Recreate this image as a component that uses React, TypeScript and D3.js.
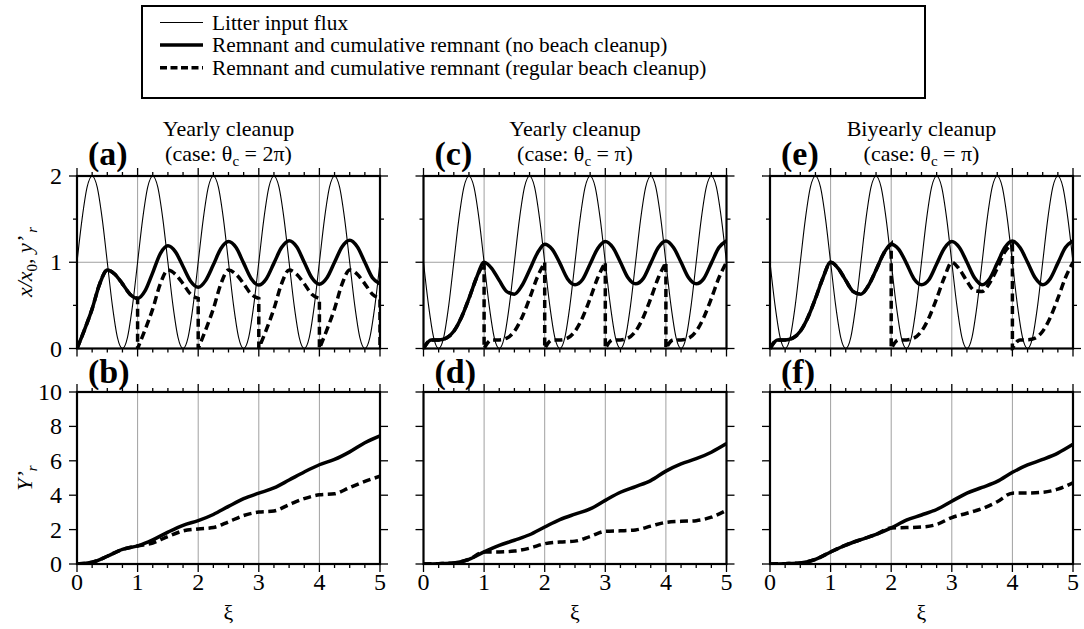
import React from "react";
import * as d3 from "d3";

// sampling grids (xi = t / one year)
const xiTop = d3.range(0, 41).map((i) => i * 0.125);
const xiFlux = d3.range(0, 61).map((i) => i / 12);
const xiCum = d3.range(0, 21).map((i) => i * 0.25);

// litter input flux x/x0
const fluxA = [
  1, 1.5, 1.87, 2, 1.87, 1.5, 1, 0.5, 0.13, 0, 0.13, 0.5,
  1, 1.5, 1.87, 2, 1.87, 1.5, 1, 0.5, 0.13, 0, 0.13, 0.5,
  1, 1.5, 1.87, 2, 1.87, 1.5, 1, 0.5, 0.13, 0, 0.13, 0.5,
  1, 1.5, 1.87, 2, 1.87, 1.5, 1, 0.5, 0.13, 0, 0.13, 0.5,
  1, 1.5, 1.87, 2, 1.87, 1.5, 1, 0.5, 0.13, 0, 0.13, 0.5,
  1,
];
const fluxCE = [
  1, 0.5, 0.13, 0, 0.13, 0.5, 1, 1.5, 1.87, 2, 1.87, 1.5,
  1, 0.5, 0.13, 0, 0.13, 0.5, 1, 1.5, 1.87, 2, 1.87, 1.5,
  1, 0.5, 0.13, 0, 0.13, 0.5, 1, 1.5, 1.87, 2, 1.87, 1.5,
  1, 0.5, 0.13, 0, 0.13, 0.5, 1, 1.5, 1.87, 2, 1.87, 1.5,
  1, 0.5, 0.13, 0, 0.13, 0.5, 1, 1.5, 1.87, 2, 1.87, 1.5,
  1,
];

// remnant y'r, no cleanup / with cleanup (value at a cleanup xi is the one before the drop)
const remNoA = [
  0, 0.22, 0.46, 0.75, 0.91, 0.86, 0.75, 0.63, 0.58,
  0.67, 0.88, 1.1, 1.19, 1.12, 0.95, 0.78, 0.71,
  0.79, 0.97, 1.16, 1.24, 1.17, 0.99, 0.81, 0.735,
  0.81, 0.99, 1.17, 1.25, 1.18, 1.0, 0.82, 0.745,
  0.82, 1.0, 1.18, 1.255, 1.18, 1.0, 0.82, 0.75,
];
const remCleanA = [
  0, 0.22, 0.46, 0.75, 0.91, 0.86, 0.75, 0.63, 0.58,
  0.22, 0.46, 0.75, 0.91, 0.86, 0.75, 0.63, 0.58,
  0.22, 0.46, 0.75, 0.91, 0.86, 0.75, 0.63, 0.58,
  0.22, 0.46, 0.75, 0.91, 0.86, 0.75, 0.63, 0.58,
  0.22, 0.46, 0.75, 0.91, 0.86, 0.75, 0.63, 0.58,
];
const cleanupA = [1, 2, 3, 4, 5];

const remNoC = [
  0, 0.1, 0.1, 0.12, 0.2, 0.36, 0.58, 0.82, 1.0,
  0.93, 0.79, 0.66, 0.63, 0.73, 0.91, 1.1, 1.21,
  1.15, 0.99, 0.81, 0.74, 0.8, 0.98, 1.16, 1.24,
  1.17, 1.0, 0.82, 0.75, 0.81, 0.99, 1.17, 1.245,
  1.17, 1.0, 0.82, 0.75, 0.81, 0.99, 1.17, 1.25,
];
const remCleanC = [
  0, 0.1, 0.1, 0.12, 0.2, 0.36, 0.58, 0.82, 1.0,
  0.1, 0.1, 0.12, 0.2, 0.36, 0.58, 0.82, 1.0,
  0.1, 0.1, 0.12, 0.2, 0.36, 0.58, 0.82, 1.0,
  0.1, 0.1, 0.12, 0.2, 0.36, 0.58, 0.82, 1.0,
  0.1, 0.1, 0.12, 0.2, 0.36, 0.58, 0.82, 1.0,
];
const cleanupC = [1, 2, 3, 4];

const remNoE = [
  0, 0.1, 0.1, 0.12, 0.2, 0.36, 0.58, 0.82, 1.0,
  0.93, 0.79, 0.66, 0.63, 0.73, 0.91, 1.1, 1.21,
  1.15, 0.99, 0.81, 0.74, 0.8, 0.98, 1.16, 1.24,
  1.17, 1.0, 0.82, 0.74, 0.81, 0.99, 1.17, 1.245,
  1.17, 1.0, 0.82, 0.74, 0.81, 0.99, 1.17, 1.25,
];
const remCleanE = [
  0, 0.1, 0.1, 0.12, 0.2, 0.36, 0.58, 0.82, 1.0,
  0.93, 0.79, 0.66, 0.63, 0.73, 0.91, 1.1, 1.21,
  0.1, 0.1, 0.12, 0.2, 0.36, 0.58, 0.82, 1.0,
  0.92, 0.78, 0.67, 0.66, 0.76, 0.93, 1.12, 1.21,
  0.1, 0.1, 0.12, 0.2, 0.36, 0.58, 0.82, 1.0,
];
const cleanupE = [2, 4];

// cumulative remnant Y'r
const cumNoB = [0, 0.1, 0.45, 0.85, 1.05, 1.4, 1.85, 2.25, 2.52, 2.88, 3.35, 3.8, 4.12, 4.42, 4.88, 5.35, 5.77, 6.08, 6.52, 7.05, 7.45];
const cumCleanB = [0, 0.1, 0.45, 0.85, 1.05, 1.22, 1.6, 1.92, 2.04, 2.12, 2.45, 2.82, 3.02, 3.08, 3.45, 3.8, 4.02, 4.08, 4.45, 4.8, 5.1];
const cumNoD = [0, 0.02, 0.06, 0.27, 0.7, 1.08, 1.38, 1.7, 2.15, 2.58, 2.9, 3.2, 3.7, 4.17, 4.5, 4.85, 5.4, 5.82, 6.12, 6.5, 7.0];
const cumCleanD = [0, 0.02, 0.06, 0.27, 0.7, 0.7, 0.75, 0.92, 1.18, 1.28, 1.33, 1.6, 1.9, 1.93, 1.98, 2.2, 2.42, 2.48, 2.52, 2.72, 3.12];
const cumNoF = [0, 0.02, 0.06, 0.27, 0.7, 1.1, 1.42, 1.72, 2.1, 2.55, 2.85, 3.17, 3.65, 4.12, 4.45, 4.8, 5.33, 5.76, 6.08, 6.45, 6.96];
const cumCleanF = [0, 0.02, 0.06, 0.27, 0.7, 1.1, 1.42, 1.72, 2.1, 2.12, 2.15, 2.3, 2.7, 2.95, 3.22, 3.62, 4.12, 4.13, 4.17, 4.35, 4.72];

const titles = ["Yearly cleanup", "Yearly cleanup", "Biyearly cleanup"];
const thetas = ["2π", "π", "π"];
const topLetters = ["(a)", "(c)", "(e)"];
const botLetters = ["(b)", "(d)", "(f)"];
const legendLabels = [
  "Litter input flux",
  "Remnant and cumulative remnant (no beach cleanup)",
  "Remnant and cumulative remnant (regular beach cleanup)",
];

const columns = [
  { flux: fluxA, remNo: remNoA, remClean: remCleanA, cleanup: cleanupA, cumNo: cumNoB, cumClean: cumCleanB },
  { flux: fluxCE, remNo: remNoC, remClean: remCleanC, cleanup: cleanupC, cumNo: cumNoD, cumClean: cumCleanD },
  { flux: fluxCE, remNo: remNoE, remClean: remCleanE, cleanup: cleanupE, cumNo: cumNoF, cumClean: cumCleanF },
];

const FONT = '"Liberation Serif", "Times New Roman", Times, "DejaVu Serif", serif';
const panelLeft = [77, 423.5, 770];
const panelW = 303;
const topY = [176, 348.5];
const botY = [392, 564];
const DASH = "8,4.5";

// join segments (split where xi repeats) so that drops are vertical
function linePath(pts: [number, number][], line: d3.Line<[number, number]>, sx: any, sy: any) {
  const segs: [number, number][][] = [[]];
  pts.forEach((p, i) => {
    if (i > 0 && p[0] === pts[i - 1][0]) segs.push([]);
    segs[segs.length - 1].push(p);
  });
  return segs
    .map((s, i) => {
      if (s.length === 1) return `L${sx(s[0][0])},${sy(s[0][1])}`;
      const d = (line(s) || "").replace(/Z$/, "");
      return i === 0 ? d : "L" + d.slice(1);
    })
    .join("");
}

function withDrops(xs: number[], vs: number[], drops: number[]) {
  const pts: [number, number][] = [];
  xs.forEach((x, i) => {
    pts.push([x, vs[i]]);
    if (drops.includes(x)) pts.push([x, 0]);
  });
  return pts;
}

function Frame({ x0, y0, y1, x, y, yTicks, yMajor }: any) {
  const xTicks = d3.range(0, 21).map((i) => i * 0.25);
  return (
    <g>
      {xTicks.map((t) => {
        const major = Number.isInteger(t);
        const len = major ? 8 : 4;
        return (
          <g key={t}>
            <line x1={x(t)} x2={x(t)} y1={y0} y2={y0 - len} stroke="#000" strokeWidth={1.3} />
            <line x1={x(t)} x2={x(t)} y1={y1} y2={y1 + len} stroke="#000" strokeWidth={1.3} />
          </g>
        );
      })}
      {yTicks.map((t: number) => {
        const len = yMajor(t) ? 8 : 4;
        return (
          <g key={"y" + t}>
            <line x1={x0} x2={x0 - len} y1={y(t)} y2={y(t)} stroke="#000" strokeWidth={1.3} />
            <line x1={x0 + panelW} x2={x0 + panelW + len} y1={y(t)} y2={y(t)} stroke="#000" strokeWidth={1.3} />
          </g>
        );
      })}
      <rect x={x0} y={y0} width={panelW} height={y1 - y0} fill="none" stroke="#000" strokeWidth={2.2} />
    </g>
  );
}

export default function App() {
  const width = 1084;
  const height = 629;

  return (
    <svg
      width={width}
      height={height}
      style={{ position: "absolute", left: 0, top: 0, background: "#fff", fontFamily: FONT }}
    >
      <rect width={width} height={height} fill="#fff" />

      {/* legend */}
      <g>
        <rect x={142} y={6} width={783} height={92} fill="#fff" stroke="#000" strokeWidth={2} />
        {legendLabels.map((lab, i) => {
          const ly = 22.5 + i * 22.6;
          return (
            <g key={lab}>
              <line
                x1={160}
                x2={203}
                y1={ly}
                y2={ly}
                stroke="#000"
                strokeWidth={i === 0 ? 1.1 : 3.5}
                strokeDasharray={i === 2 ? "7,3.5" : undefined}
              />
              <text x={212} y={ly + 7} fontSize={21.3} style={{ fontFamily: FONT }}>
                {lab}
              </text>
            </g>
          );
        })}
      </g>

      {columns.map((col, ci) => {
        const x0 = panelLeft[ci];
        const x = d3.scaleLinear().domain([0, 5]).range([x0, x0 + panelW]);
        const yT = d3.scaleLinear().domain([0, 2]).range([topY[1], topY[0]]);
        const yB = d3.scaleLinear().domain([0, 10]).range([botY[1], botY[0]]);
        const lineT = d3
          .line<[number, number]>()
          .x((d) => x(d[0]))
          .y((d) => yT(d[1]))
          .curve(d3.curveMonotoneX);
        const lineB = d3
          .line<[number, number]>()
          .x((d) => x(d[0]))
          .y((d) => yB(d[1]))
          .curve(d3.curveMonotoneX);
        const fluxPts = xiFlux.map((v, i) => [v, col.flux[i]] as [number, number]);
        const noPts = xiTop.map((v, i) => [v, col.remNo[i]] as [number, number]);
        const cleanPts = withDrops(xiTop, col.remClean, col.cleanup);
        const cumNoPts = xiCum.map((v, i) => [v, col.cumNo[i]] as [number, number]);
        const cumCleanPts = xiCum.map((v, i) => [v, col.cumClean[i]] as [number, number]);
        const cx = x0 + panelW / 2;
        const grid = [1, 2, 3, 4];
        const tf = { fontFamily: FONT };

        return (
          <g key={ci}>
            <defs>
              <clipPath id={"clipT" + ci}>
                <rect x={x0} y={topY[0] - 2} width={panelW} height={topY[1] - topY[0] + 4} />
              </clipPath>
              <clipPath id={"clipB" + ci}>
                <rect x={x0} y={botY[0]} width={panelW} height={botY[1] - botY[0]} />
              </clipPath>
            </defs>

            {/* titles */}
            <text x={cx} y={136} fontSize={22} textAnchor="middle" style={tf}>
              {titles[ci]}
            </text>
            <text x={cx} y={161} fontSize={22} textAnchor="middle" style={tf}>
              (case: θ
              <tspan fontSize={15} dy={5}>
                c
              </tspan>
              <tspan dy={-5}> = {thetas[ci]})</tspan>
            </text>
            <text x={x0 + 11} y={165} fontSize={34} fontWeight="bold" style={tf}>
              {topLetters[ci]}
            </text>
            <text x={x0 + 11} y={383} fontSize={34} fontWeight="bold" style={tf}>
              {botLetters[ci]}
            </text>

            {/* top panel */}
            {grid.map((g) => (
              <line key={"gt" + g} x1={x(g)} x2={x(g)} y1={topY[0]} y2={topY[1]} stroke="#a0a0a0" strokeWidth={1} />
            ))}
            <line x1={x0} x2={x0 + panelW} y1={yT(1)} y2={yT(1)} stroke="#a0a0a0" strokeWidth={1} />
            <g clipPath={`url(#clipT${ci})`}>
              <path d={lineT(fluxPts) || ""} fill="none" stroke="#000" strokeWidth={1.1} />
              <path d={linePath(cleanPts, lineT, x, yT)} fill="none" stroke="#000" strokeWidth={3.5} strokeDasharray={DASH} />
              <path d={lineT(noPts) || ""} fill="none" stroke="#000" strokeWidth={3.5} />
            </g>
            <Frame
              x0={x0}
              y0={topY[0]}
              y1={topY[1]}
              x={x}
              y={yT}
              yTicks={[0, 0.5, 1, 1.5, 2]}
              yMajor={(t: number) => Number.isInteger(t)}
            />

            {/* bottom panel */}
            {grid.map((g) => (
              <line key={"gb" + g} x1={x(g)} x2={x(g)} y1={botY[0]} y2={botY[1]} stroke="#a0a0a0" strokeWidth={1} />
            ))}
            <g clipPath={`url(#clipB${ci})`}>
              <path d={lineB(cumCleanPts) || ""} fill="none" stroke="#000" strokeWidth={3.5} strokeDasharray={DASH} />
              <path d={lineB(cumNoPts) || ""} fill="none" stroke="#000" strokeWidth={3.5} />
            </g>
            <Frame
              x0={x0}
              y0={botY[0]}
              y1={botY[1]}
              x={x}
              y={yB}
              yTicks={[0, 2, 4, 6, 8, 10]}
              yMajor={() => true}
            />

            {/* x tick labels */}
            {[0, 1, 2, 3, 4, 5].map((t) => (
              <text key={"xl" + t} x={x(t)} y={590} fontSize={24} textAnchor="middle" style={tf}>
                {t}
              </text>
            ))}
            <text x={cx} y={620} fontSize={22} textAnchor="middle" style={tf}>
              ξ
            </text>

            {ci === 0 && (
              <g>
                {[0, 1, 2].map((t) => (
                  <text key={"yt" + t} x={62} y={yT(t) + 8} fontSize={24} textAnchor="end" style={tf}>
                    {t}
                  </text>
                ))}
                {[0, 2, 4, 6, 8, 10].map((t) => (
                  <text key={"yb" + t} x={62} y={yB(t) + 8} fontSize={24} textAnchor="end" style={tf}>
                    {t}
                  </text>
                ))}
                <text transform={`translate(32,262) rotate(-90)`} fontSize={22} textAnchor="middle" fontStyle="italic" style={tf}>
                  x/x
                  <tspan fontSize={15} dy={5} fontStyle="normal">
                    0
                  </tspan>
                  <tspan dy={-5}>, y’ </tspan>
                  <tspan fontSize={15} dy={5}>
                    r
                  </tspan>
                </text>
                <text transform={`translate(32,478) rotate(-90)`} fontSize={22} textAnchor="middle" fontStyle="italic" style={tf}>
                  Y’ 
                  <tspan fontSize={15} dy={5}>
                    r
                  </tspan>
                </text>
              </g>
            )}
          </g>
        );
      })}
    </svg>
  );
}
